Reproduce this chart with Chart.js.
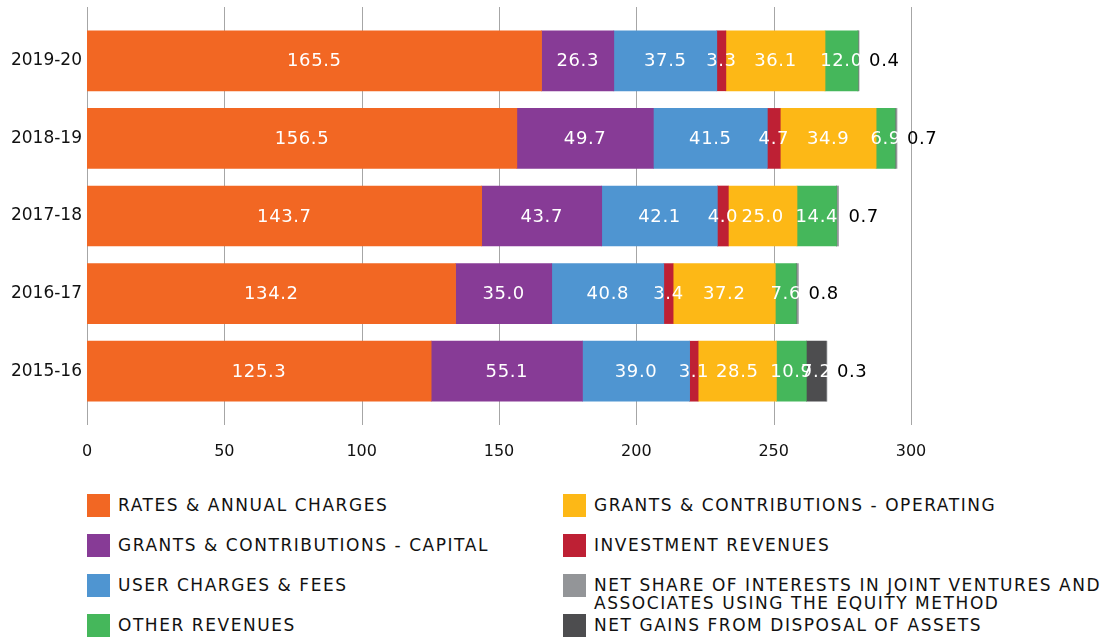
<!DOCTYPE html>
<html>
<head>
<meta charset="utf-8">
<script src="https://cdn.jsdelivr.net/npm/chart.js@4.4.1/dist/chart.umd.min.js"></script>
<style>
  body { margin: 0; background: #fff; font-family: "DejaVu Sans", sans-serif; }
  #wrap { position: relative; width: 1110px; height: 640px; }
  #chartBox { position: absolute; left: 0; top: 0; width: 1110px; height: 470px; }
  .leg { position: absolute; display: flex; align-items: flex-start; font-size: 17px; letter-spacing: 1.55px; color: #111; line-height: 18px; white-space: nowrap; }
  .leg .sw { width: 23px; height: 23px; margin-right: 8px; flex: none; margin-top: -2px; }
</style>
</head>
<body>
<div id="wrap">
  <div id="chartBox"><canvas id="revenueChart"></canvas></div>
  <div id="legend"></div>
</div>
<script>
const years = ["2019-20", "2018-19", "2017-18", "2016-17", "2015-16"];
const rates = [165.5, 156.5, 143.7, 134.2, 125.3];
const grantsCapital = [26.3, 49.7, 43.7, 35.0, 55.1];
const userCharges = [37.5, 41.5, 42.1, 40.8, 39.0];
const investment = [3.3, 4.7, 4.0, 3.4, 3.1];
const grantsOperating = [36.1, 34.9, 25.0, 37.2, 28.5];
const otherRevenues = [12.0, 6.9, 14.4, 7.6, 10.9];
const netGains = [0, 0, 0, 0, 7.2];
const netShare = [0.4, 0.7, 0.7, 0.8, 0.3];
const xTicks = [0, 50, 100, 150, 200, 250, 300];

const series = [
  { label: "RATES & ANNUAL CHARGES", data: rates, color: "#F26723" },
  { label: "GRANTS & CONTRIBUTIONS - CAPITAL", data: grantsCapital, color: "#873B96" },
  { label: "USER CHARGES & FEES", data: userCharges, color: "#4F95D1" },
  { label: "INVESTMENT REVENUES", data: investment, color: "#BE2034" },
  { label: "GRANTS & CONTRIBUTIONS - OPERATING", data: grantsOperating, color: "#FDB816" },
  { label: "OTHER REVENUES", data: otherRevenues, color: "#45B75B" },
  { label: "NET GAINS FROM DISPOSAL OF ASSETS", data: netGains, color: "#4D4D4F" },
  { label: "NET SHARE OF INTERESTS IN JOINT VENTURES AND ASSOCIATES USING THE EQUITY METHOD", data: netShare, color: "#939598", outside: true },
];

const fontFam = '"DejaVu Sans", sans-serif';

// vertical grid lines that run a bit past the bars
const gridPlugin = {
  id: "gridExt",
  beforeDatasetsDraw(chart) {
    const { ctx, chartArea, scales } = chart;
    ctx.save();
    ctx.strokeStyle = "#a6a6a6";
    ctx.lineWidth = 1;
    xTicks.forEach(v => {
      const x = Math.round(scales.x.getPixelForValue(v)) + 0.5;
      ctx.beginPath();
      ctx.moveTo(x, chartArea.top - 15);
      ctx.lineTo(x, chartArea.bottom + 15);
      ctx.stroke();
    });
    ctx.restore();
  },
};

// value labels
const labelPlugin = {
  id: "valueLabels",
  afterDatasetsDraw(chart) {
    const ctx = chart.ctx;
    ctx.save();
    ctx.font = "18px " + fontFam;
    ctx.letterSpacing = "0.6px";
    ctx.textBaseline = "middle";
    chart.data.datasets.forEach((ds, i) => {
      const meta = chart.getDatasetMeta(i);
      meta.data.forEach((bar, j) => {
        const v = ds.data[j];
        if (!v) return;
        const txt = v.toFixed(1);
        if (series[i].outside) {
          ctx.fillStyle = "#000";
          ctx.textAlign = "left";
          ctx.fillText(txt, bar.x + 10, bar.y + 1);
        } else {
          ctx.fillStyle = "#fff";
          ctx.textAlign = "center";
          ctx.fillText(txt, (bar.x + bar.base) / 2, bar.y + 1);
        }
      });
    });
    ctx.restore();
  },
};

new Chart(document.getElementById("revenueChart").getContext("2d"), {
  type: "bar",
  data: {
    labels: years,
    datasets: series.map(s => ({
      label: s.label,
      data: s.data,
      backgroundColor: s.color,
      borderWidth: 0,
      barThickness: 60,
    })),
  },
  options: {
    indexAxis: "y",
    responsive: true,
    maintainAspectRatio: false,
    animation: false,
    layout: { padding: { top: 22, right: 199, left: 0, bottom: 0 } },
    plugins: { legend: { display: false }, tooltip: { enabled: false } },
    scales: {
      x: {
        stacked: true,
        min: 0,
        max: 300,
        grid: { display: false, drawTicks: false },
        border: { display: false },
        afterFit: s => { s.height = 60; },
        afterBuildTicks: s => { s.ticks = xTicks.map(v => ({ value: v })); },
        ticks: { padding: 32, color: "#111", font: { family: fontFam, size: 16 } },
      },
      y: {
        stacked: true,
        grid: { display: false, drawTicks: false },
        border: { display: false },
        afterFit: s => { s.width = 87; },
        ticks: { padding: 5, color: "#111", font: { family: fontFam, size: 17 } },
      },
    },
  },
  plugins: [gridPlugin, labelPlugin],
});

// legend laid out in two columns like the original
const legendOrder = [
  { idx: 0, x: 87, y: 496 }, { idx: 1, x: 87, y: 536 }, { idx: 2, x: 87, y: 576 }, { idx: 5, x: 87, y: 616 },
  { idx: 4, x: 563, y: 496 }, { idx: 3, x: 563, y: 536 }, { idx: 7, x: 563, y: 576 }, { idx: 6, x: 563, y: 616 },
];
const legendEl = document.getElementById("legend");
legendOrder.forEach(item => {
  const s = series[item.idx];
  const div = document.createElement("div");
  div.className = "leg";
  div.style.left = item.x + "px";
  div.style.top = item.y + "px";
  const text = item.idx === 7 ? "NET SHARE OF INTERESTS IN JOINT VENTURES AND<br>ASSOCIATES USING THE EQUITY METHOD" : s.label;
  div.innerHTML = '<span class="sw" style="background:' + s.color + '"></span><span>' + text + "</span>";
  legendEl.appendChild(div);
});
</script>
</body>
</html>
